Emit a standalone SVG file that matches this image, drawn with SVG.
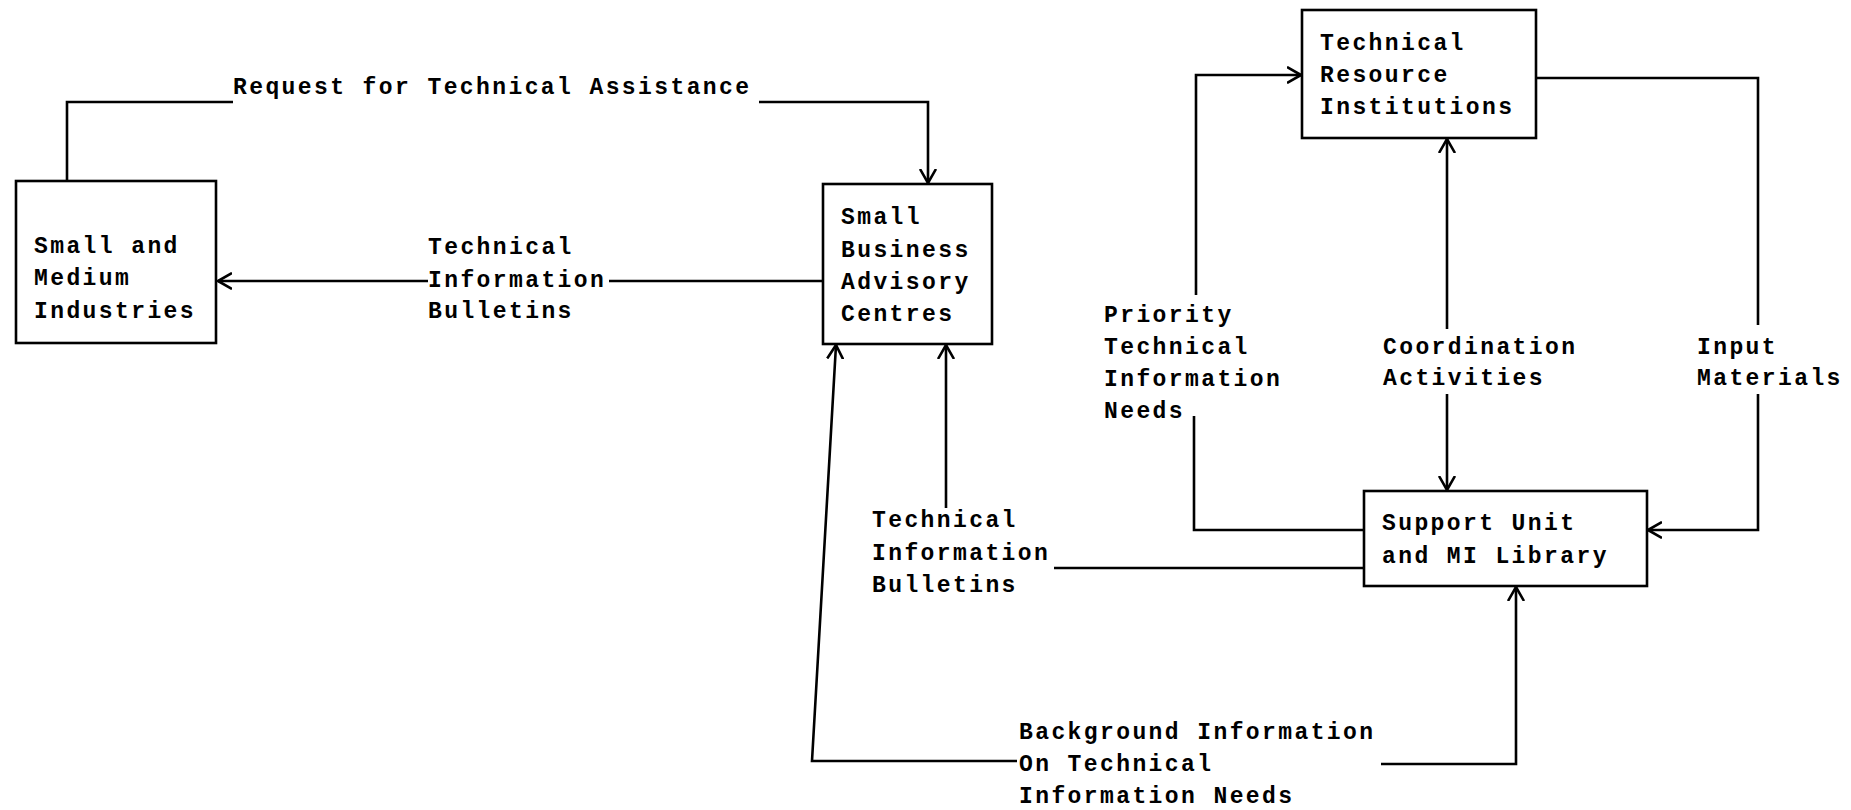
<svg xmlns="http://www.w3.org/2000/svg" width="1851" height="810" viewBox="0 0 1851 810">
<style>
text{font-family:"Liberation Mono","Courier New",monospace;font-size:23px;font-weight:bold;letter-spacing:2.4px;fill:#000}
.box{fill:#fff;stroke:#000;stroke-width:2.6}
.ln{fill:none;stroke:#000;stroke-width:2.6}
</style>
<defs>
<marker id="ah" viewBox="0 0 15 18" refX="14" refY="9" markerWidth="15" markerHeight="18" markerUnits="userSpaceOnUse" orient="auto">
<path d="M0,1 L14,9 L0,17" fill="none" stroke="#000" stroke-width="2.6"/>
</marker>
</defs>
<rect width="1851" height="810" fill="#fff"/>
<g id="connectors">
<path class="ln" d="M67,181 V102 H233"/>
<path class="ln" d="M759,102 H928 V183" marker-end="url(#ah)"/>
<text x="233" y="94">Request for Technical Assistance</text>
<path class="ln" d="M428,281 H218" marker-end="url(#ah)"/>
<path class="ln" d="M609,281 H823"/>
<text x="428" y="254">Technical</text>
<text x="428" y="287">Information</text>
<text x="428" y="318">Bulletins</text>
<path class="ln" d="M1363,568 H1054"/>
<path class="ln" d="M946,508 V345" marker-end="url(#ah)"/>
<text x="872" y="527">Technical</text>
<text x="872" y="560">Information</text>
<text x="872" y="592">Bulletins</text>
<path class="ln" d="M1017,761 H812 L836,345" marker-end="url(#ah)"/>
<path class="ln" d="M1381,764 H1516 V587" marker-end="url(#ah)"/>
<text x="1019" y="739">Background Information</text>
<text x="1019" y="771">On Technical</text>
<text x="1019" y="803">Information Needs</text>
<path class="ln" d="M1363,530 H1194 V416"/>
<path class="ln" d="M1196,295 V75 H1301" marker-end="url(#ah)"/>
<text x="1104" y="322">Priority</text>
<text x="1104" y="354">Technical</text>
<text x="1104" y="386">Information</text>
<text x="1104" y="418">Needs</text>
<path class="ln" d="M1447,329 V139" marker-end="url(#ah)"/>
<path class="ln" d="M1447,394 V490" marker-end="url(#ah)"/>
<text x="1383" y="354">Coordination</text>
<text x="1383" y="385">Activities</text>
<path class="ln" d="M1536,78 H1758 V325"/>
<path class="ln" d="M1758,394 V530 H1648" marker-end="url(#ah)"/>
<text x="1697" y="354">Input</text>
<text x="1697" y="385">Materials</text>
</g>
<g id="sme">
<rect class="box" x="16" y="181" width="200" height="162"/>
<text x="34" y="253">Small and</text>
<text x="34" y="285">Medium</text>
<text x="34" y="318">Industries</text>
</g>
<g id="sbac">
<rect class="box" x="823" y="184" width="169" height="160"/>
<text x="841" y="224">Small</text>
<text x="841" y="257">Business</text>
<text x="841" y="289">Advisory</text>
<text x="841" y="321">Centres</text>
</g>
<g id="tri">
<rect class="box" x="1302" y="10" width="234" height="128"/>
<text x="1320" y="50">Technical</text>
<text x="1320" y="82">Resource</text>
<text x="1320" y="114">Institutions</text>
</g>
<g id="su">
<rect class="box" x="1364" y="491" width="283" height="95"/>
<text x="1382" y="530">Support Unit</text>
<text x="1382" y="563">and MI Library</text>
</g>
</svg>
